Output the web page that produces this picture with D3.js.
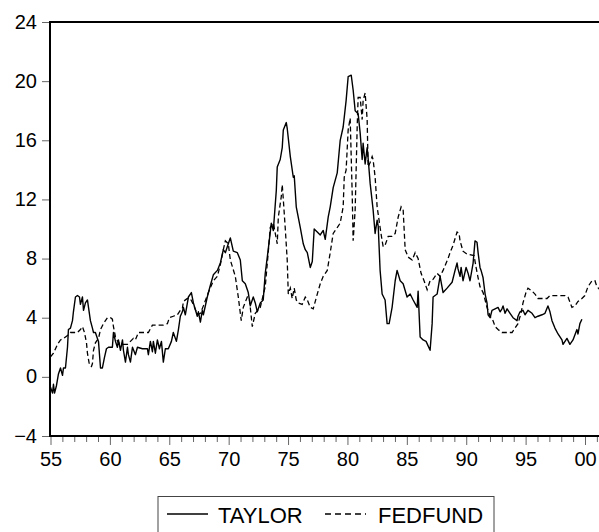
<!DOCTYPE html>
<html>
<head>
<meta charset="utf-8">
<script src="https://cdn.jsdelivr.net/npm/d3@7"></script>
<style>
  html, body { margin: 0; padding: 0; background: #fff; }
  svg { display: block; }
  text { font-family: "Liberation Sans", Arial, sans-serif; fill: #000; }
</style>
</head>
<body>
<svg id="chart" width="599" height="532"></svg>
<script>
// Taylor-rule rate vs. effective federal funds rate, 1955-2000 (percent)
const seriesNames = ["TAYLOR", "FEDFUND"];

const taylorDates = [1955.00,1955.17,1955.25,1955.34,1955.50,1955.67,1955.84,1956.01,1956.09,1956.26,1956.43,1956.51,1956.68,1956.85,1956.93,1957.10,1957.27,1957.44,1957.52,1957.69,1957.78,1957.94,1958.11,1958.20,1958.36,1958.53,1958.62,1958.78,1958.95,1959.04,1959.21,1959.37,1959.54,1959.71,1959.88,1960.21,1960.30,1960.47,1960.63,1960.72,1960.89,1961.06,1961.14,1961.31,1961.48,1961.56,1961.73,1961.90,1962.15,1962.32,1962.74,1963.16,1963.24,1963.41,1963.58,1963.66,1963.83,1964.00,1964.17,1964.34,1964.50,1964.67,1964.92,1965.18,1965.34,1965.60,1965.77,1965.93,1966.10,1966.19,1966.35,1966.61,1966.86,1967.03,1967.36,1967.45,1967.62,1967.78,1967.87,1968.20,1968.46,1968.71,1969.05,1969.30,1969.55,1969.72,1969.97,1970.14,1970.39,1970.73,1970.98,1971.15,1971.40,1971.65,1971.82,1972.07,1972.24,1972.41,1972.66,1972.91,1973.08,1973.33,1973.59,1973.76,1974.01,1974.09,1974.34,1974.51,1974.60,1974.85,1974.93,1975.19,1975.44,1975.52,1975.69,1976.03,1976.28,1976.45,1976.62,1976.87,1977.04,1977.20,1977.46,1977.71,1977.96,1978.13,1978.38,1978.55,1978.80,1979.14,1979.39,1979.64,1979.89,1980.06,1980.32,1980.48,1980.65,1980.90,1981.07,1981.24,1981.32,1981.49,1981.66,1981.74,1981.91,1982.16,1982.33,1982.50,1982.59,1982.75,1982.92,1983.17,1983.34,1983.51,1983.76,1984.02,1984.18,1984.44,1984.69,1985.02,1985.28,1985.53,1985.87,1985.95,1986.12,1986.37,1986.62,1986.96,1987.13,1987.21,1987.55,1987.80,1988.05,1988.39,1988.81,1989.06,1989.23,1989.31,1989.48,1989.57,1989.73,1989.99,1990.16,1990.32,1990.58,1990.74,1990.91,1991.00,1991.16,1991.25,1991.42,1991.59,1991.75,1991.84,1992.01,1992.17,1992.43,1992.68,1992.85,1993.01,1993.10,1993.27,1993.44,1993.69,1993.94,1994.28,1994.36,1994.53,1994.78,1994.95,1995.20,1995.54,1995.79,1996.04,1996.38,1996.63,1996.88,1997.05,1997.22,1997.47,1997.73,1998.06,1998.15,1998.48,1998.73,1998.99,1999.32,1999.41,1999.57,1999.74];
const taylorValues = [-0.7,-1.1,-0.5,-1.1,-0.6,0.2,0.6,0.1,0.6,0.6,2.0,3.2,3.3,3.8,4.4,5.4,5.5,5.4,4.9,5.4,4.5,5.0,5.2,4.7,3.8,3.3,3.0,3.0,2.6,2.4,0.6,0.6,1.3,1.9,2.0,2.0,3.0,2.4,2.0,2.5,1.8,2.5,1.8,1.0,2.0,1.5,1.0,2.0,1.5,2.0,1.9,1.9,1.5,2.4,1.7,2.4,1.6,2.5,1.9,2.4,1.0,1.9,1.9,2.4,3.0,2.4,3.2,4.1,4.4,4.7,4.2,5.4,5.7,5.0,4.1,4.4,3.7,4.5,4.2,5.4,6.2,6.9,7.2,7.7,8.6,8.4,9.0,9.4,8.5,8.4,7.9,6.5,6.3,5.7,4.8,5.4,5.0,4.4,5.0,5.2,7.0,8.6,10.4,9.9,12.6,14.2,14.7,15.5,16.7,17.2,16.8,14.9,13.5,13.6,11.5,10.1,9.0,8.6,8.4,7.4,7.8,10.0,9.8,9.6,9.9,9.3,10.8,11.5,12.8,13.8,16.0,16.9,18.7,20.3,20.4,19.4,18.0,17.8,16.5,14.7,15.8,14.4,15.5,14.8,13.1,11.3,9.7,10.6,10.2,7.2,5.6,5.2,3.6,3.6,4.7,6.5,7.2,6.5,6.3,5.4,5.6,5.2,4.7,5.8,2.7,2.5,2.4,1.8,3.6,5.4,5.6,6.8,5.7,6.0,6.4,7.2,7.7,7.3,6.8,7.4,6.5,7.4,7.0,6.5,7.7,9.2,9.1,8.4,7.4,7.2,6.7,5.6,5.0,4.2,4.0,4.5,4.6,4.7,4.4,4.6,4.8,4.3,4.6,4.3,4.0,3.8,4.1,4.4,4.5,4.2,4.5,4.3,4.0,4.1,4.2,4.3,4.8,4.4,3.8,3.3,2.9,2.5,2.2,2.6,2.2,2.5,3.2,2.9,3.6,3.9];

const fedfundDates = [1955.00,1955.25,1955.59,1955.84,1956.09,1956.43,1956.68,1957.27,1957.52,1957.69,1957.86,1958.03,1958.11,1958.28,1958.45,1958.53,1958.62,1958.78,1959.04,1959.21,1959.46,1959.79,1960.05,1960.21,1960.30,1960.47,1960.72,1961.06,1961.48,1961.73,1961.98,1962.15,1962.40,1963.24,1963.58,1964.50,1964.84,1965.01,1965.34,1965.68,1965.93,1966.10,1966.19,1966.52,1966.77,1967.03,1967.36,1967.62,1967.87,1968.29,1968.71,1969.05,1969.30,1969.55,1969.72,1969.97,1970.14,1970.56,1970.81,1971.06,1971.23,1971.57,1971.74,1971.99,1972.24,1972.66,1973.08,1973.33,1973.50,1973.76,1974.09,1974.18,1974.43,1974.51,1974.60,1974.76,1974.93,1975.02,1975.19,1975.35,1975.52,1975.69,1975.86,1976.19,1976.45,1976.62,1976.87,1977.12,1977.46,1977.71,1977.96,1978.30,1978.55,1978.80,1979.14,1979.39,1979.64,1979.73,1979.89,1980.06,1980.23,1980.40,1980.48,1980.65,1980.82,1980.90,1981.07,1981.24,1981.32,1981.49,1981.66,1981.74,1981.91,1982.08,1982.16,1982.33,1982.50,1982.75,1982.92,1983.01,1983.17,1983.43,1983.76,1984.02,1984.27,1984.52,1984.69,1984.86,1985.11,1985.45,1985.70,1985.95,1986.20,1986.45,1986.71,1986.96,1987.21,1987.55,1987.80,1988.05,1988.47,1988.64,1988.89,1989.23,1989.40,1989.48,1989.73,1990.07,1990.66,1990.83,1991.00,1991.16,1991.42,1991.59,1991.75,1992.01,1992.26,1992.43,1992.68,1993.01,1993.86,1994.11,1994.36,1994.61,1994.78,1995.03,1995.20,1995.54,1995.79,1996.04,1996.80,1997.05,1998.31,1998.57,1998.90,1999.15,1999.41,1999.74,1999.99,2000.25,2000.59,2000.84,2001.00,2001.25];
const fedfundValues = [1.35,1.6,2.2,2.5,2.6,2.8,3.0,3.0,3.2,3.4,3.0,2.3,1.6,0.8,0.7,0.9,1.8,2.3,2.6,3.2,3.6,4.0,4.0,3.9,3.4,2.7,2.3,2.2,2.2,2.4,2.6,2.5,3.0,3.0,3.5,3.5,3.6,4.0,4.1,4.2,4.5,4.6,5.1,5.3,5.3,4.9,4.2,4.3,4.8,5.7,6.5,6.8,7.6,8.6,9.2,9.0,7.9,6.8,5.4,3.8,4.7,5.4,5.3,3.4,4.3,4.7,6.1,8.4,10.1,10.4,9.0,10.8,12.2,13.0,12.0,10.1,7.9,5.6,6.0,5.3,6.0,5.2,5.0,4.9,5.4,5.2,4.7,4.6,5.6,6.3,6.8,7.2,8.4,9.7,10.1,10.4,11.5,13.5,14.0,16.7,17.5,12.4,9.2,11.3,16.9,18.9,18.9,17.4,18.7,19.2,17.4,14.2,14.5,14.9,14.7,13.5,11.5,10.1,9.2,8.8,8.9,9.5,9.5,9.7,10.8,11.5,11.3,8.6,8.1,7.9,8.4,8.0,7.0,6.5,5.9,6.5,6.6,7.0,6.8,7.2,8.0,8.4,8.9,9.8,9.7,9.2,8.5,8.3,8.2,7.4,6.7,6.1,5.7,5.2,4.7,4.1,3.8,3.4,3.2,3.0,3.0,3.3,3.6,4.3,5.0,5.7,6.0,5.8,5.6,5.3,5.3,5.5,5.5,5.4,4.7,4.8,5.1,5.3,5.5,6.1,6.5,6.5,6.1,5.9];

const yTickValues = [-4, 0, 4, 8, 12, 16, 20, 24];
const xTickYears = [1955, 1960, 1965, 1970, 1975, 1980, 1985, 1990, 1995, 2000];
const xTickLabels = ["55", "60", "65", "70", "75", "80", "85", "90", "95", "00"];

const svg = d3.select("#chart");
const plotLeft = 50, plotTop = 22, plotBottom = 436, plotRight = 606;

const x = d3.scaleLinear().domain([1955, 2000]).range([50.5, 585]);
const y = d3.scaleLinear().domain([-4, 24]).range([plotBottom, plotTop]);

// y axis: outward ticks with labels on the left
const yAxis = svg.append("g")
  .attr("transform", `translate(${plotLeft},0)`)
  .call(d3.axisLeft(y).tickValues(yTickValues).tickSize(8).tickPadding(5));
yAxis.select(".domain").remove();
yAxis.selectAll(".tick line").attr("stroke", "#666").attr("stroke-width", 1);
yAxis.selectAll(".tick text").attr("font-size", 20).attr("font-family", "Liberation Sans, Arial, sans-serif").attr("fill", "#000").attr("dy", "0.3em");

// x axis: every year gets a minor tick, every fifth year a longer labelled tick
const allYears = d3.range(1955, 2002);
const xMinor = svg.append("g")
  .attr("transform", `translate(0,${plotBottom})`)
  .call(d3.axisBottom(x).tickValues(allYears.filter(v => !xTickYears.includes(v))).tickSize(6).tickFormat(""));
xMinor.select(".domain").remove();
xMinor.selectAll(".tick line").attr("stroke", "#666").attr("stroke-width", 1);

const xMajor = svg.append("g")
  .attr("transform", `translate(0,${plotBottom})`)
  .call(d3.axisBottom(x).tickValues(xTickYears).tickSize(9).tickPadding(7)
    .tickFormat((d, i) => xTickLabels[i]));
xMajor.select(".domain").remove();
xMajor.selectAll(".tick line").attr("stroke", "#666").attr("stroke-width", 1);
xMajor.selectAll(".tick text").attr("font-size", 20).attr("font-family", "Liberation Sans, Arial, sans-serif").attr("fill", "#000");

// frame: top edge, left edge and bottom axis line
svg.append("path")
  .attr("d", `M${plotRight},${plotTop}H${plotLeft}V${plotBottom}H${plotRight}`)
  .attr("fill", "none").attr("stroke", "#000").attr("stroke-width", 2);

// series lines
svg.append("clipPath").attr("id", "plotclip")
  .append("rect").attr("x", plotLeft).attr("y", plotTop)
  .attr("width", plotRight - plotLeft).attr("height", plotBottom - plotTop);

const taylor = taylorDates.map((d, i) => [d, taylorValues[i]]);
const fedfund = fedfundDates.map((d, i) => [d, fedfundValues[i]]);
const line = d3.line().x(d => x(d[0])).y(d => y(d[1]));

const plot = svg.append("g").attr("clip-path", "url(#plotclip)");
plot.append("path").datum(fedfund)
  .attr("d", line).attr("fill", "none").attr("stroke", "#000")
  .attr("stroke-width", 1.3).attr("stroke-dasharray", "5,3");
plot.append("path").datum(taylor)
  .attr("d", line).attr("fill", "none").attr("stroke", "#000")
  .attr("stroke-width", 1.4).attr("stroke-linejoin", "round");

// legend
const lg = svg.append("g");
lg.append("rect").attr("x", 158).attr("y", 496.5).attr("width", 336).attr("height", 42)
  .attr("fill", "#fff").attr("stroke", "#444").attr("stroke-width", 1);
lg.append("line").attr("x1", 167).attr("x2", 208).attr("y1", 514).attr("y2", 514)
  .attr("stroke", "#000").attr("stroke-width", 1.3);
lg.append("text").attr("x", 218).attr("y", 523).attr("font-size", 22).text(seriesNames[0]);
lg.append("line").attr("x1", 325).attr("x2", 366).attr("y1", 514).attr("y2", 514)
  .attr("stroke", "#000").attr("stroke-width", 1.3).attr("stroke-dasharray", "6,4");
lg.append("text").attr("x", 378).attr("y", 523).attr("font-size", 22).text(seriesNames[1]);
</script>
</body>
</html>
